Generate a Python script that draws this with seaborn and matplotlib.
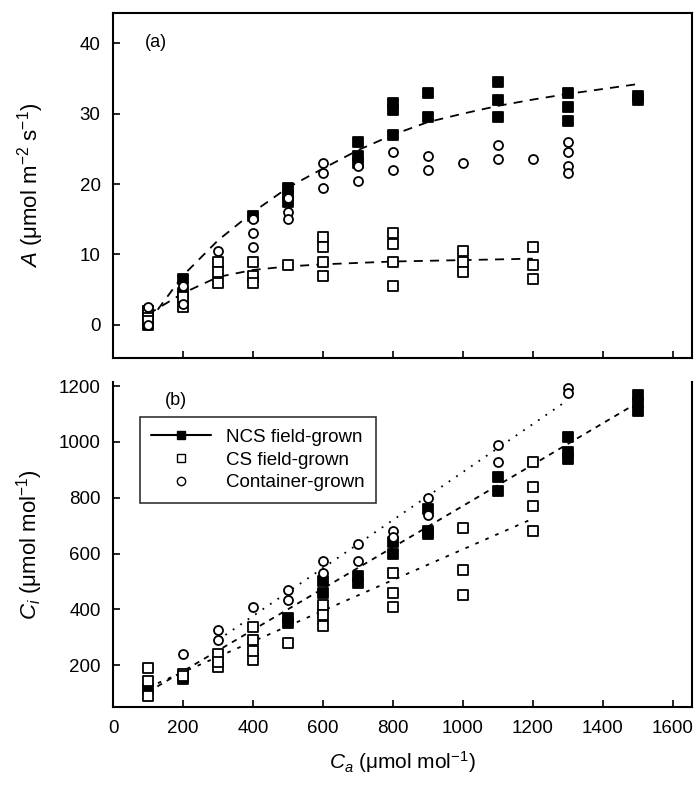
import pandas as pd
import matplotlib
matplotlib.use("Agg")
import matplotlib.pyplot as plt
import seaborn as sns
from matplotlib.lines import Line2D

# -----------------------------------
# Panel (a): A vs Ca
# -----------------------------------
ncs_a_ca = [100, 100, 100, 200, 200, 400, 500, 500, 500, 700, 700, 700, 800, 800, 800,
            900, 900, 1100, 1100, 1100, 1300, 1300, 1300, 1500, 1500]
ncs_a_val = [1.0, 2.0, 0.0, 6.5, 4.5, 15.5, 19.5, 18.5, 17.5, 26, 24, 23, 31.5, 30.5, 27,
             33, 29.5, 34.5, 32, 29.5, 33, 31, 29, 32.5, 32]

cs_a_ca = [100, 100, 100, 200, 200, 300, 300, 300, 400, 400, 400, 500, 600, 600, 600, 600,
           800, 800, 800, 800, 1000, 1000, 1000, 1200, 1200, 1200]
cs_a_val = [2, 1, 0.5, 4, 2.5, 9, 7.5, 6, 9, 7, 6, 8.5, 12.5, 11, 9, 7,
            13, 11.5, 9, 5.5, 10.5, 9, 7.5, 11, 8.5, 6.5]

cont_a_ca = [100, 100, 200, 200, 300, 400, 400, 400, 500, 500, 500, 600, 600, 600, 700, 700,
             800, 800, 900, 900, 1000, 1100, 1100, 1200, 1300, 1300, 1300, 1300]
cont_a_val = [2.5, 0, 5.5, 3, 10.5, 15, 13, 11, 18, 16, 15, 23, 21.5, 19.5, 22.5, 20.5,
              24.5, 22, 24, 22, 23, 25.5, 23.5, 23.5, 26, 24.5, 22.5, 21.5]

# fitted curves
ncs_a_fit_ca = [100, 200, 300, 400, 500, 600, 700, 800, 900, 1000, 1100, 1200, 1300, 1400, 1500]
ncs_a_fit = [0.3, 7, 12, 16, 19.5, 22.2, 24.8, 27, 28.8, 30, 31.1, 32, 32.8, 33.5, 34.2]
cs_a_fit_ca = [100, 200, 300, 400, 500, 600, 700, 800, 900, 1000, 1100, 1200]
cs_a_fit = [1.5, 4.5, 6.8, 7.8, 8.3, 8.6, 8.8, 9.0, 9.1, 9.2, 9.3, 9.4]

# -----------------------------------
# Panel (b): Ci vs Ca
# -----------------------------------
ncs_b_ca = [100, 200, 500, 500, 600, 600, 700, 700, 800, 800, 900, 900, 900,
            1100, 1100, 1300, 1300, 1300, 1500, 1500, 1500]
ncs_b_val = [115, 150, 370, 350, 500, 460, 520, 495, 640, 600, 760, 680, 670,
             875, 823, 1018, 965, 940, 1170, 1140, 1110]

cs_b_ca = [100, 100, 100, 200, 200, 300, 300, 300, 400, 400, 400, 400, 500, 600, 600, 600,
           800, 800, 800, 1000, 1000, 1000, 1200, 1200, 1200, 1200]
cs_b_val = [90, 143, 190, 170, 160, 240, 193, 210, 335, 290, 220, 250, 280, 415, 380, 340,
            530, 460, 410, 690, 540, 450, 930, 840, 770, 680]

cont_b_ca = [200, 300, 300, 400, 500, 500, 600, 600, 700, 700, 800, 800, 900, 900,
             1100, 1100, 1300, 1300]
cont_b_val = [240, 327, 290, 410, 470, 433, 575, 530, 635, 575, 680, 660, 800, 740,
              990, 930, 1195, 1175]

ncs_b_fit_ca = [100, 1500]
ncs_b_fit = [104, 1141]
cs_b_fit_ca = [100, 1200]
cs_b_fit = [120, 725]
cont_b_fit_ca = [300, 1300]
cont_b_fit = [290, 1150]

groups = ["NCS field-grown", "CS field-grown", "Container-grown"]

def long_df(parts):
    rows = []
    for g, xs, ys in parts:
        rows += [{"Ca": x, "val": y, "group": g} for x, y in zip(xs, ys)]
    return pd.DataFrame(rows)

pts_a = long_df([(groups[0], ncs_a_ca, ncs_a_val), (groups[1], cs_a_ca, cs_a_val),
                 (groups[2], cont_a_ca, cont_a_val)])
pts_b = long_df([(groups[0], ncs_b_ca, ncs_b_val), (groups[1], cs_b_ca, cs_b_val),
                 (groups[2], cont_b_ca, cont_b_val)])

sns.set_style("ticks")
plt.rcParams["font.family"] = ["Liberation Sans", "DejaVu Sans"]
plt.rcParams["mathtext.fontset"] = "custom"
plt.rcParams["mathtext.it"] = "Liberation Sans:italic"
plt.rcParams["mathtext.rm"] = "Liberation Sans"
plt.rcParams["text.color"] = "black"
plt.rcParams["axes.labelcolor"] = "black"
plt.rcParams["xtick.color"] = "black"
plt.rcParams["ytick.color"] = "black"
plt.rcParams["axes.edgecolor"] = "black"

markers = {groups[0]: "s", groups[1]: "s", groups[2]: "o"}

fig = plt.figure(figsize=(6.95, 7.96), dpi=100)
ax_a = fig.add_axes([0.1626, 0.5503, 0.833, 0.4334])
ax_b = fig.add_axes([0.1626, 0.1118, 0.833, 0.4083])

def draw_points(ax, df):
    for g in groups:
        sub = df[df["group"] == g]
        filled = g == groups[0]
        sns.scatterplot(data=sub, x="Ca", y="val", ax=ax, marker=markers[g], s=42,
                        color="black" if filled else "white", edgecolor="black",
                        linewidth=1.3, zorder=3, legend=False)

# panel a
sns.lineplot(x=ncs_a_fit_ca, y=ncs_a_fit, ax=ax_a, color="black", lw=1.3,
             linestyle=(0, (5, 4)), zorder=2)
sns.lineplot(x=cs_a_fit_ca, y=cs_a_fit, ax=ax_a, color="black", lw=1.3,
             linestyle=(0, (5, 4)), zorder=2)
draw_points(ax_a, pts_a)
ax_a.set_xlim(0, 1655)
ax_a.set_ylim(-4.7, 44.3)
ax_a.set_yticks([0, 10, 20, 30, 40])
ax_a.set_xticks([0, 200, 400, 600, 800, 1000, 1200, 1400, 1600])
ax_a.set_xticklabels([])
ax_a.set_xlabel("")
ax_a.set_ylabel(r"$A$ (μmol m$^{-2}$ s$^{-1}$)", fontsize=16, labelpad=24)
ax_a.text(0.055, 0.9, "(a)", transform=ax_a.transAxes, fontsize=13)

# panel b
sns.lineplot(x=ncs_b_fit_ca, y=ncs_b_fit, ax=ax_b, color="black", lw=1.3,
             linestyle=(0, (3, 3)), zorder=2)
sns.lineplot(x=cs_b_fit_ca, y=cs_b_fit, ax=ax_b, color="black", lw=1.3,
             linestyle=(0, (2, 4)), zorder=2)
sns.lineplot(x=cont_b_fit_ca, y=cont_b_fit, ax=ax_b, color="black", lw=1.3,
             linestyle=(0, (1, 4)), zorder=2)
draw_points(ax_b, pts_b)
ax_b.set_xlim(0, 1655)
ax_b.set_ylim(50, 1215)
ax_b.set_yticks([200, 400, 600, 800, 1000, 1200])
ax_b.set_xticks([0, 200, 400, 600, 800, 1000, 1200, 1400, 1600])
ax_b.set_xlabel(r"$C_a$ (μmol mol$^{-1}$)", fontsize=15, labelpad=9)
ax_b.set_ylabel(r"$C_i$ (μmol mol$^{-1}$)", fontsize=16, labelpad=10)
ax_b.text(0.09, 0.93, "(b)", transform=ax_b.transAxes, fontsize=13)
ax_b.spines["top"].set_visible(False)

handles = [
    Line2D([], [], color="black", lw=1.5, marker="s", markersize=6, markerfacecolor="black"),
    Line2D([], [], color="none", marker="s", markersize=6, markerfacecolor="white",
           markeredgecolor="black"),
    Line2D([], [], color="none", marker="o", markersize=6, markerfacecolor="white",
           markeredgecolor="black"),
]
leg = ax_b.legend(handles, groups, loc="upper left", bbox_to_anchor=(0.03, 0.92),
                  frameon=True, fancybox=False, edgecolor="black", fontsize=13.5,
                  handlelength=3.2, borderpad=0.6, labelspacing=0.3)
leg.get_frame().set_linewidth(1.2)

for ax in (ax_a, ax_b):
    ax.tick_params(direction="in", length=5, width=1.2, labelsize=13.5, pad=9)
    for sp in ax.spines.values():
        sp.set_linewidth(1.5)

fig.savefig("out.png", dpi=100)
